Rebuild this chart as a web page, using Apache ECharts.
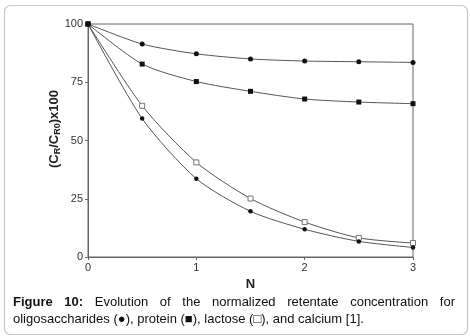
<!DOCTYPE html>
<html>
<head>
<meta charset="utf-8">
<script src="https://cdn.jsdelivr.net/npm/echarts@6/dist/echarts.min.js"></script>
<style>
  html, body { margin: 0; padding: 0; background: #fff; }
  #chart { width: 470px; height: 336px; }
</style>
</head>
<body>
<div id="chart"></div>
<script>
// Number of diafiltration volumes
const nValues = [0, 0.5, 1, 1.5, 2, 2.5, 3];

// Normalized retentate concentration (C_R / C_R0) x 100
const oligosaccharides = [100, 91.4, 87.2, 85.0, 84.1, 83.8, 83.5];
const protein          = [100, 82.8, 75.3, 71.1, 67.8, 66.5, 65.8];
const lactose          = [100, 64.9, 40.6, 25.1, 15.0, 8.2, 6.0];
const calcium          = [100, 59.4, 33.6, 19.6, 11.9, 6.7, 4.1];

const yTicks = [0, 25, 50, 75, 100];
const xTicks = [0, 1, 2, 3];

const captionLine1 = ['Figure', '10:', 'Evolution', 'of', 'the', 'normalized', 'retentate', 'concentration', 'for'];
const captionLine2 = 'oligosaccharides (\u25CF), protein (\u25A0), lactose (\u25A1), and calcium [1].';

const pairs = vals => nValues.map((n, i) => [n, vals[i]]);

const lineStyle = { color: '#555', width: 1 };

function series(name, vals, symbol, size, filled) {
  return {
    name, type: 'line', data: pairs(vals), smooth: 0.25,
    symbol, symbolSize: size, showSymbol: true,
    lineStyle,
    itemStyle: filled
      ? { color: '#111', borderColor: '#111', borderWidth: 0 }
      : { color: '#fff', borderColor: '#777', borderWidth: 1 },
    emphasis: { disabled: true },
    z: filled ? 3 : 2
  };
}

// Justified caption: measure the words and spread the leftover space evenly
const FONT = '13px "Liberation Sans", Arial, sans-serif';
const BOLD = 'bold 13px "Liberation Sans", Arial, sans-serif';
const ctx = document.createElement('canvas').getContext('2d');
const left = 13, right = 455;
const widths = captionLine1.map((w, i) => { ctx.font = i < 2 ? BOLD : FONT; return ctx.measureText(w).width; });
const gap = (right - left - widths.reduce((a, b) => a + b, 0)) / (captionLine1.length - 1);
let xPos = left;
const captionGraphics = captionLine1.map((w, i) => {
  const g = {
    type: 'text', left: xPos, top: 296,
    style: { text: w, font: i < 2 ? BOLD : FONT, fill: '#111' }
  };
  xPos += widths[i] + gap;
  return g;
});
captionGraphics.push({
  type: 'text', left: left, top: 313,
  style: { text: captionLine2, font: FONT, fill: '#111' }
});

const chart = echarts.init(document.getElementById('chart'), null, { renderer: 'canvas' });
chart.setOption({
  animation: false,
  backgroundColor: '#fff',
  grid: { left: 88, right: 57, top: 24, bottom: 79, show: true, borderColor: '#666', borderWidth: 1 },
  xAxis: {
    type: 'value', min: xTicks[0], max: xTicks[xTicks.length - 1], interval: 1,
    name: 'N', nameLocation: 'middle', nameGap: 15,
    nameTextStyle: { fontWeight: 'bold', fontSize: 13, color: '#222', fontFamily: 'Liberation Sans' },
    axisLine: { lineStyle: { color: '#666' } },
    axisTick: { show: true, length: 3, lineStyle: { color: '#666' } },
    axisLabel: { color: '#333', fontSize: 11, margin: 5, fontFamily: 'Liberation Sans' },
    splitLine: { show: false }
  },
  yAxis: {
    type: 'value', min: yTicks[0], max: yTicks[yTicks.length - 1], interval: 25,
    axisLine: { show: true, lineStyle: { color: '#666' } },
    axisTick: { show: true, length: 3, lineStyle: { color: '#666' } },
    axisLabel: { color: '#333', fontSize: 11, margin: 5, fontFamily: 'Liberation Sans' },
    splitLine: { show: false }
  },
  series: [
    series('oligosaccharides', oligosaccharides, 'circle', 5, true),
    series('protein', protein, 'rect', 5, true),
    series('lactose', lactose, 'rect', 5, false),
    series('calcium', calcium, 'circle', 4.5, true)
  ],
  graphic: [
    {
      type: 'rect', left: 2, top: 3, z: -1,
      shape: { width: 463, height: 329, r: 6 },
      style: { fill: 'none', stroke: '#c8c8c8', lineWidth: 1.2 }
    },
    {
      // y-axis title, rotated, with subscripts
      type: 'text', x: 54, y: 129, rotation: Math.PI / 2,
      style: {
        text: '{p|(C}{s|R}{p|/C}{s|R0}{p|)x100}',
        align: 'center', verticalAlign: 'middle',
        rich: {
          p: { fontWeight: 'bold', fontSize: 13, fill: '#222', fontFamily: 'Liberation Sans' },
          s: { fontWeight: 'bold', fontSize: 9, fill: '#222', fontFamily: 'Liberation Sans', padding: [7, 0, 0, 0] }
        }
      }
    },
    ...captionGraphics
  ]
});
</script>
</body>
</html>
